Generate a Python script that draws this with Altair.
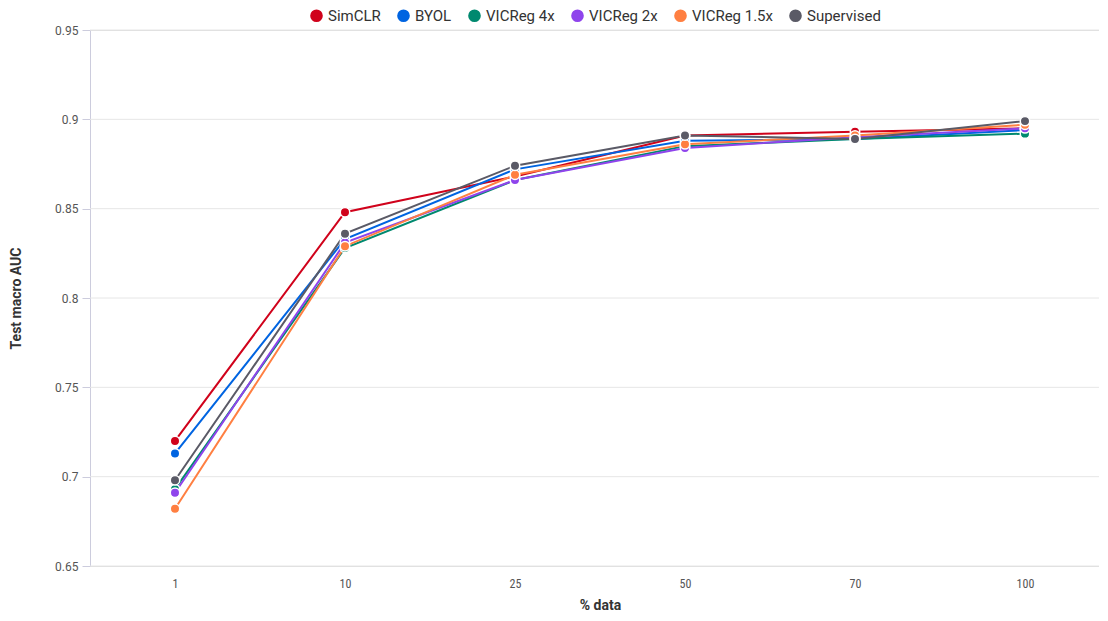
import altair as alt
import pandas as pd

pct = ["1", "10", "25", "50", "70", "100"]
series = ["SimCLR", "BYOL", "VICReg 4x", "VICReg 2x", "VICReg 1.5x", "Supervised"]
simclr = [0.720, 0.848, 0.868, 0.891, 0.893, 0.895]
byol = [0.713, 0.833, 0.872, 0.888, 0.889, 0.894]
vicreg4 = [0.693, 0.828, 0.866, 0.885, 0.889, 0.892]
vicreg2 = [0.691, 0.831, 0.866, 0.884, 0.890, 0.895]
vicreg15 = [0.682, 0.829, 0.869, 0.886, 0.891, 0.897]
supervised = [0.698, 0.836, 0.874, 0.891, 0.889, 0.899]
y_ticks = [0.65, 0.7, 0.75, 0.8, 0.85, 0.9, 0.95]
colors = ["#d0021b", "#0064e1", "#00896f", "#8f44ec", "#ff7f41", "#5a5a66"]

rows = []
for name, vals in zip(series, [simclr, byol, vicreg4, vicreg2, vicreg15, supervised]):
    for p, v in zip(pct, vals):
        rows.append({"pct": p, "model": name, "auc": v})
df = pd.DataFrame(rows)
grid_df = pd.DataFrame({"auc": y_ticks})

WIDTH = 1009

x = alt.X("pct:N", sort=pct, title="% data",
          scale=alt.Scale(type="point", padding=0, range=[85, 935]),
          axis=alt.Axis(labelAngle=0, ticks=False, domain=False, grid=False,
                        labelFont="Roboto Condensed, Roboto", labelFontSize=12, labelColor="#555",
                        labelPadding=12, titleFontSize=14, titleFont="Roboto", titleFontWeight="bold",
                        titleColor="#333", titlePadding=9))
y_scale = alt.Scale(domain=[0.65, 0.95], nice=False, zero=False)
y = alt.Y("auc:Q", title="Test macro AUC", scale=y_scale,
          axis=alt.Axis(values=y_ticks, format="~g", grid=False,
                        labelFont="Roboto", labelFontSize=12, labelColor="#555",
                        tickColor="#ccd", domainColor="#ccd",
                        tickSize=8,
                        titleFont="Roboto", titleFontSize=14, titleFontWeight="bold",
                        titleColor="#333", titlePadding=31, labelPadding=4))
color = alt.Color("model:N", sort=series, title=None,
                  scale=alt.Scale(domain=series, range=colors),
                  legend=alt.Legend(orient="none", legendX=219, legendY=-22,
                                    direction="horizontal", symbolType="circle",
                                    symbolSize=160, symbolOpacity=1, labelFont="Roboto",
                                    labelFontSize=15, labelColor="#333", columnPadding=15,
                                    symbolStrokeWidth=0))

grid = alt.Chart(grid_df).mark_rule(color="#e6e6e6", strokeWidth=1).encode(
    y=alt.Y("auc:Q", scale=y_scale), x=alt.value(0), x2=alt.value(WIDTH))
lines = alt.Chart(df).mark_line(strokeWidth=2).encode(x=x, y=y, color=color)
points = alt.Chart(df).mark_circle(size=90, opacity=1, stroke="white", strokeWidth=1.5).encode(
    x=x, y=y, color=color)

chart = (grid + lines + points).properties(
    width=WIDTH, height=536,
    autosize=alt.AutoSizeParams(type="none"),
    padding={"left": 82, "top": 22, "right": 0, "bottom": 46},
).configure_view(fill="#f9f9f9", stroke=None).configure(background="white")

chart.save("out.html", embed_options={"renderer": "svg", "actions": False})
